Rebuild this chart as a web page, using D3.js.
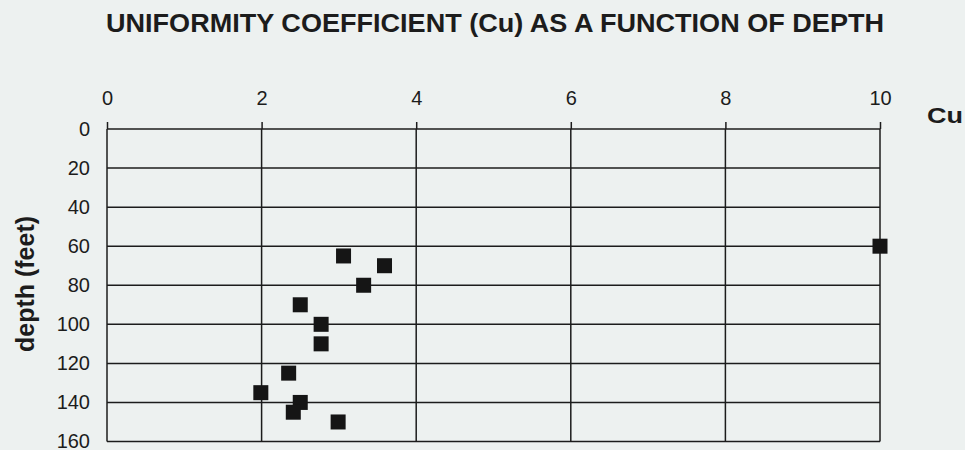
<!DOCTYPE html>
<html>
<head>
<meta charset="utf-8">
<script src="https://cdn.jsdelivr.net/npm/d3@7"></script>
<style>
  body { margin: 0; background: #edf1f0; }
  svg { display: block; font-family: "Liberation Sans", Arial, sans-serif; }
</style>
</head>
<body>
<script>
// values
const cu =    [3.06, 3.59, 3.32, 2.50, 2.77, 2.77, 2.35, 1.99, 2.50, 2.41, 2.99, 10.0];
const depth = [65,   70,   80,   90,   100,  110,  125,  135,  140,  145,  150,  60];
const cuTicks = [0, 2, 4, 6, 8, 10];
const depthTicks = [0, 20, 40, 60, 80, 100, 120, 140, 160];

const W = 965, H = 450;
const x = d3.scaleLinear().domain([0, 10]).range([107, 880]);
const y = d3.scaleLinear().domain([0, 160]).range([129, 441.5]);
const ink = "#1c1c1c";

const svg = d3.select("body").append("svg")
    .attr("width", W).attr("height", H);

svg.append("rect").attr("width", W).attr("height", H).attr("fill", "#edf1f0");

// title
svg.append("text")
    .attr("x", 106).attr("y", 32)
    .attr("textLength", 778).attr("lengthAdjust", "spacingAndGlyphs")
    .style("font-size", "25px").style("font-weight", "bold").attr("fill", ink)
    .text("UNIFORMITY COEFFICIENT (Cu) AS A FUNCTION OF DEPTH");

// grid
svg.append("g").selectAll("line")
    .data(depthTicks).enter().append("line")
    .attr("x1", x(0)).attr("x2", x(10))
    .attr("y1", d => y(d)).attr("y2", d => y(d))
    .attr("stroke", ink).attr("stroke-width", 1.5);

svg.append("g").selectAll("line")
    .data(cuTicks).enter().append("line")
    .attr("x1", d => x(d)).attr("x2", d => x(d))
    .attr("y1", y(0)).attr("y2", y(160))
    .attr("stroke", ink).attr("stroke-width", 1.5);

// top axis
const xAxis = svg.append("g")
    .attr("transform", `translate(0,${y(0)})`)
    .call(d3.axisTop(x).tickValues(cuTicks).tickSize(7).tickPadding(17).tickFormat(d3.format("d")));
xAxis.select(".domain").remove();
xAxis.selectAll("line").attr("stroke", ink).attr("stroke-width", 1.5);
xAxis.selectAll("text").style("font-size", "20px").attr("fill", ink);

// left axis
const yAxis = svg.append("g")
    .attr("transform", `translate(${x(0)},0)`)
    .call(d3.axisLeft(y).tickValues(depthTicks).tickSize(0).tickPadding(17));
yAxis.select(".domain").remove();
yAxis.selectAll("text").style("font-size", "20px").attr("fill", ink);

// axis titles
svg.append("text")
    .attr("x", 927).attr("y", 123)
    .attr("textLength", 36).attr("lengthAdjust", "spacingAndGlyphs")
    .style("font-size", "22px").style("font-weight", "bold").attr("fill", ink)
    .text("Cu");

svg.append("text")
    .attr("transform", "translate(34,284) rotate(-90)")
    .attr("text-anchor", "middle")
    .style("font-size", "25px").style("font-weight", "bold").attr("fill", ink)
    .text("depth (feet)");

// points
const sz = 15;
svg.append("g").selectAll("rect")
    .data(cu.map((c, i) => ({c, d: depth[i]}))).enter().append("rect")
    .attr("x", p => x(p.c) - sz / 2).attr("y", p => y(p.d) - sz / 2)
    .attr("width", sz).attr("height", sz)
    .attr("fill", "#151515");
</script>
</body>
</html>
